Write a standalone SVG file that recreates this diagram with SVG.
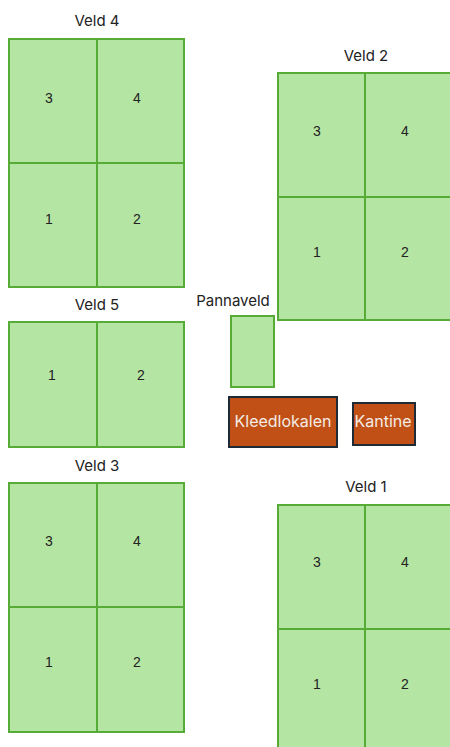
<svg xmlns="http://www.w3.org/2000/svg" width="450" height="747" viewBox="0 0 450 747">
<style>
.f{fill:#b5e5a2;stroke:#57ab37;stroke-width:2}
.d{stroke:#57ab37;stroke-width:2;fill:none}
.t{font-family:Inter,"Open Sans",sans-serif;font-size:15px;fill:#222;text-anchor:middle}
.n{font-family:"Liberation Sans",Arial,sans-serif;font-size:14px;fill:#222;text-anchor:middle}
.b{fill:#c05015;stroke:#1e2b36;stroke-width:2}
.w{font-family:Inter,"Open Sans",sans-serif;font-size:16px;fill:#f4ece6;text-anchor:middle}
</style>
<g id="veld4">
<text class="t" x="97" y="26">Veld 4</text>
<rect class="f" x="9" y="39" width="175" height="248"/>
<path class="d" d="M97 39V287M9 163H184"/>
<text class="n" x="49" y="103">3</text><text class="n" x="137" y="103">4</text>
<text class="n" x="49" y="224">1</text><text class="n" x="137" y="224">2</text>
</g>
<g id="veld2">
<text class="t" x="366" y="61">Veld 2</text>
<rect class="f" x="278" y="73" width="176" height="247"/>
<path class="d" d="M365 73V320M278 197H454"/>
<text class="n" x="317" y="136">3</text><text class="n" x="405" y="136">4</text>
<text class="n" x="317" y="257">1</text><text class="n" x="405" y="257">2</text>
</g>
<g id="veld5">
<text class="t" x="97" y="310">Veld 5</text>
<rect class="f" x="9" y="322" width="175" height="125"/>
<path class="d" d="M97 322V447"/>
<text class="n" x="52" y="380">1</text><text class="n" x="141" y="380">2</text>
</g>
<g id="pannaveld">
<text class="t" x="233" y="306">Pannaveld</text>
<rect class="f" x="231" y="316" width="43" height="71"/>
</g>
<g id="kleedlokalen">
<rect class="b" x="229" y="397" width="108" height="50"/>
<text class="w" x="283" y="427">Kleedlokalen</text>
</g>
<g id="kantine">
<rect class="b" x="353" y="403" width="62" height="42"/>
<text class="w" x="383" y="427">Kantine</text>
</g>
<g id="veld3">
<text class="t" x="97" y="471">Veld 3</text>
<rect class="f" x="9" y="483" width="175" height="249"/>
<path class="d" d="M97 483V732M9 607H184"/>
<text class="n" x="49" y="546">3</text><text class="n" x="137" y="546">4</text>
<text class="n" x="49" y="667">1</text><text class="n" x="137" y="667">2</text>
</g>
<g id="veld1">
<text class="t" x="366" y="492">Veld 1</text>
<rect class="f" x="278" y="505" width="176" height="250"/>
<path class="d" d="M365 505V755M278 629H454"/>
<text class="n" x="317" y="567">3</text><text class="n" x="405" y="567">4</text>
<text class="n" x="317" y="689">1</text><text class="n" x="405" y="689">2</text>
</g>
<g id="connectors"/>
</svg>
